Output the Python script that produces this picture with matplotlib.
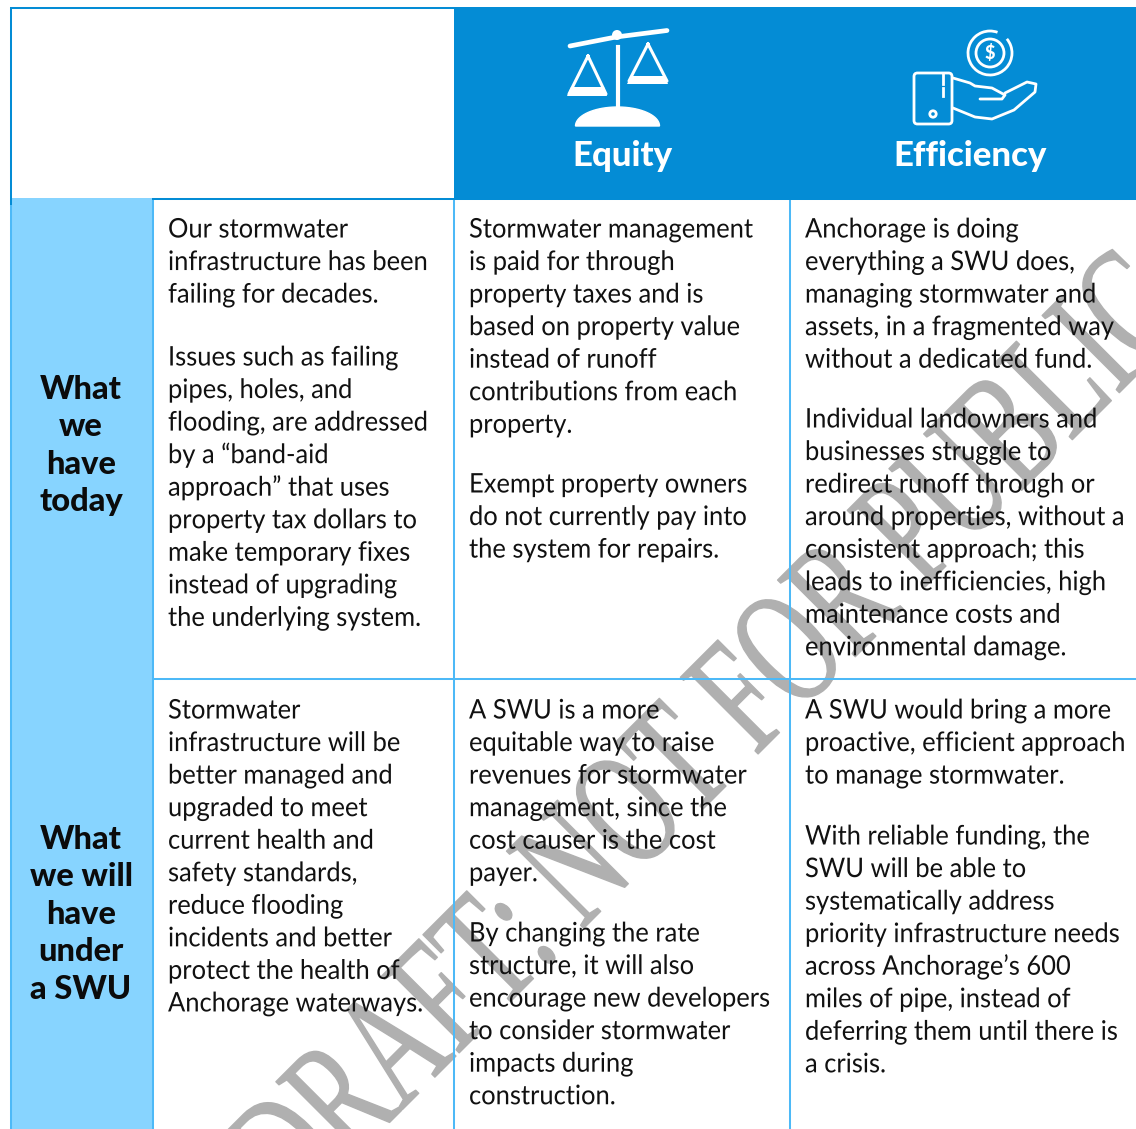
import matplotlib
matplotlib.use("Agg")
import matplotlib.pyplot as plt
import numpy as np
from matplotlib.patches import Rectangle, Circle, Polygon, FancyBboxPatch, Arc
from matplotlib.patheffects import AbstractPathEffect
from matplotlib.transforms import Affine2D

W, H = 1136, 1129
BODY_FONT = "Lato"
BODY_PX = 27.0
LINE_PX = 32.55

col_x = [168, 469, 805]
row_lines = [
    [["Our stormwater", "infrastructure has been", "failing for decades."],
     ["Issues such as failing", "pipes, holes, and", "flooding, are addressed", "by a “band-aid", "approach” that uses",
      "property tax dollars to", "make temporary fixes", "instead of upgrading", "the underlying system."]],
    [["Stormwater management", "is paid for through", "property taxes and is", "based on property value",
      "instead of runoff", "contributions from each", "property."],
     ["Exempt property owners", "do not currently pay into", "the system for repairs."]],
    [["Anchorage is doing", "everything a SWU does,", "managing stormwater and", "assets, in a fragmented way",
      "without a dedicated fund."],
     ["Individual landowners and", "businesses struggle to", "redirect runoff through or", "around properties, without a",
      "consistent approach; this", "leads to inefficiencies, high", "maintenance costs and", "environmental damage."]],
    [["Stormwater", "infrastructure will be", "better managed and", "upgraded to meet", "current health and",
      "safety standards,", "reduce flooding", "incidents and better", "protect the health of", "Anchorage waterways."]],
    [["A SWU is a more", "equitable way to raise", "revenues for stormwater", "management, since the",
      "cost causer is the cost", "payer."],
     ["By changing the rate", "structure, it will also", "encourage new developers", "to consider stormwater",
      "impacts during", "construction."]],
    [["A SWU would bring a more", "proactive, efficient approach", "to manage stormwater."],
     ["With reliable funding, the", "SWU will be able to", "systematically address", "priority infrastructure needs",
      "across Anchorage’s 600", "miles of pipe, instead of", "deferring them until there is", "a crisis."]],
]
para_tops = [[237.5, 365.5], [237.5, 492.5], [237.5, 427.5], [718.5], [718.5, 941.5], [718.5, 844.5]]
cell_cols = [0, 1, 2, 0, 1, 2]
side_labels = [["What", "we", "have", "today"], ["What", "we will", "have", "under", "a SWU"]]
side_tops = [399, 849]
headers = ["Equity", "Efficiency"]
header_x = [622, 970]
watermark = "DRAFT: NOT FOR PUBLIC"

HEAD = "#048CD5"
SIDE = "#87D4FF"
RULE = "#4DB9F7"
GRAY = "#B0B0B0"
WHITE = "white"


class Condense(AbstractPathEffect):
    """Scale the glyphs along their baseline, keeping the text a real text."""

    def __init__(self, sx, stroke=0.0):
        super().__init__()
        self.sx = sx
        self.stroke = stroke

    def draw_path(self, renderer, gc, tpath, affine, rgbFace=None):
        gc0 = renderer.new_gc()
        gc0.copy_properties(gc)
        if self.stroke:
            gc0.set_linewidth(self.stroke)
            gc0.set_foreground(rgbFace)
        renderer.draw_path(gc0, tpath, Affine2D().scale(self.sx, 1) + affine, rgbFace)
        gc0.restore()


fig = plt.figure(figsize=(W / 100, H / 100), dpi=100, facecolor="white")
ax = fig.add_axes([0, 0, 1, 1])
ax.set_xlim(0, W)
ax.set_ylim(H, 0)
ax.axis("off")

# cells
ax.add_patch(Rectangle((454, 7), W - 454, 192, fc=HEAD, ec="none", zorder=1))
ax.add_patch(Rectangle((11, 198), 141, H - 198, fc=SIDE, ec="none", zorder=1))

# watermark (below the rules and the body text)
ax.text(296, 1216, watermark, family="Liberation Serif", fontsize=120, color=GRAY, rotation=45,
        rotation_mode="anchor", ha="left", va="baseline", zorder=2, path_effects=[Condense(0.645, stroke=1.0)])

RL = 1.45
ax.plot([10, 454], [7.5, 7.5], color=HEAD, lw=RL, zorder=3, solid_capstyle="butt")
ax.plot([11, 11], [7, 205], color=HEAD, lw=RL, zorder=3, solid_capstyle="butt")
ax.plot([11, 11], [205, H], color=RULE, lw=RL, zorder=3, solid_capstyle="butt")
ax.plot([152, W], [199, 199], color=HEAD, lw=RL, zorder=3, solid_capstyle="butt")
for x in (152.5, 454, 790):
    ax.plot([x, x], [199.5, H], color=RULE, lw=RL, zorder=3, solid_capstyle="butt")
ax.plot([152, W], [678.5, 678.5], color=RULE, lw=RL, zorder=3, solid_capstyle="butt")

# body
for paras, tops, c in zip(row_lines, para_tops, cell_cols):
    for lines, top in zip(paras, tops):
        for i, s in enumerate(lines):
            ax.text(col_x[c], top + i * LINE_PX, s, family=BODY_FONT, fontsize=BODY_PX * 0.72, color="#111111",
                    ha="left", va="baseline", zorder=4, path_effects=[Condense(0.945)])

# side labels
for lines, top in zip(side_labels, side_tops):
    for i, s in enumerate(lines):
        ax.text(81, top + i * 37.4, s, family=BODY_FONT, weight="black", fontsize=23.5, color="#0b0b0b",
                ha="center", va="baseline", zorder=4)

# header labels
for s, x in zip(headers, header_x):
    ax.text(x, 166, s, family=BODY_FONT, weight="black", fontsize=25, color=WHITE, ha="center", va="baseline", zorder=4)

# scales icon
ax.plot([570, 616, 667], [46, 37, 30.5], color=WHITE, lw=3.4, solid_capstyle="round", zorder=4)
ax.add_patch(Circle((617, 35), 5, fc=WHITE, ec="none", zorder=4))
ax.plot([617.5, 617.5], [47, 110], color=WHITE, lw=3, zorder=4)
ax.plot([588, 569, 606, 588], [56, 94, 94, 56], color=WHITE, lw=2.2, zorder=4, solid_joinstyle="round")
ax.add_patch(Polygon([[571, 87], [604, 87], [607, 96], [567, 96]], closed=True, fc=WHITE, ec="none", zorder=4))
ax.plot([648, 629, 667, 648], [44, 81, 81, 44], color=WHITE, lw=2.2, zorder=4, solid_joinstyle="round")
ax.add_patch(Polygon([[631, 76], [665, 76], [668, 84], [627, 84]], closed=True, fc=WHITE, ec="none", zorder=4))
t = np.linspace(np.pi, 0, 40)
ax.fill(617.5 + 42 * np.cos(t), 126 - 19 * np.sin(t), color=WHITE, zorder=4)

# hand icon
LW = 2.0
ax.add_patch(Arc((990, 53), 44, 44, theta1=-40, theta2=290, ec=WHITE, lw=LW, zorder=4))
ax.add_patch(Circle((990, 53), 14, fc="none", ec=WHITE, lw=LW, zorder=4))
ax.text(990, 53, "$", color=WHITE, family=BODY_FONT, weight="black", fontsize=13, ha="center", va="center", zorder=5)
ax.add_patch(FancyBboxPatch((914, 73), 38, 51, boxstyle="round,pad=0,rounding_size=3.5", fc="none", ec=WHITE, lw=LW, zorder=4))
ax.add_patch(Circle((933, 114), 3.2, fc="none", ec=WHITE, lw=LW, zorder=4))
ax.plot([943, 943], [74, 84], color=WHITE, lw=LW, zorder=4)
ax.plot([943, 943], [88, 96], color=WHITE, lw=LW, zorder=4)
ax.plot([953, 970, 975, 992, 1005, 1002, 980], [78, 83, 86, 88, 95, 99, 99], color=WHITE, lw=LW, zorder=4, solid_capstyle="round")
ax.plot([1005, 1027, 1036, 1035, 1014, 992, 975, 953], [93, 82, 84, 92, 110, 119, 117, 108], color=WHITE, lw=LW, zorder=4, solid_capstyle="round")

fig.savefig("out.png", dpi=100, facecolor="white")
